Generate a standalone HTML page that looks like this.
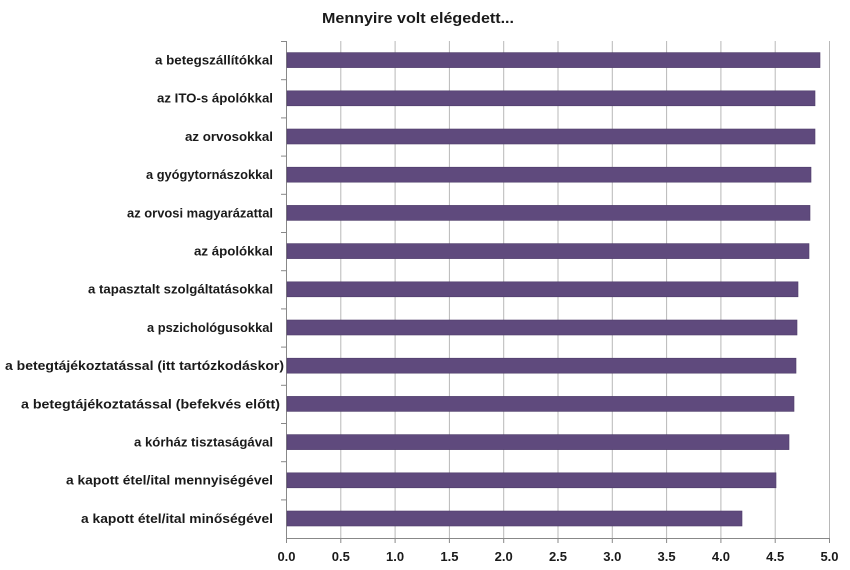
<!DOCTYPE html>
<html><head><meta charset="utf-8"><style>body{margin:0;background:#fff}svg{display:block}text{font-family:"Liberation Sans",sans-serif;font-weight:bold;fill:#1a1a1a}</style></head><body>
<svg width="850" height="570" xmlns="http://www.w3.org/2000/svg">
<text x="418" y="23" font-size="15" text-anchor="middle" textLength="192" lengthAdjust="spacingAndGlyphs">Mennyire volt elégedett...</text>
<g stroke="#b8b8b8" stroke-width="1">
<line x1="340.8" y1="41" x2="340.8" y2="538"/><line x1="395.1" y1="41" x2="395.1" y2="538"/><line x1="449.4" y1="41" x2="449.4" y2="538"/><line x1="503.7" y1="41" x2="503.7" y2="538"/><line x1="558" y1="41" x2="558" y2="538"/><line x1="612.3" y1="41" x2="612.3" y2="538"/><line x1="666.6" y1="41" x2="666.6" y2="538"/><line x1="720.9" y1="41" x2="720.9" y2="538"/><line x1="775.2" y1="41" x2="775.2" y2="538"/><line x1="829.5" y1="41" x2="829.5" y2="538"/>
</g>
<g stroke="#888" stroke-width="1">
<line x1="286.5" y1="41" x2="286.5" y2="538"/><line x1="286" y1="538.5" x2="830" y2="538.5"/>
</g>
<g stroke="#888">
<line x1="281" y1="41.5" x2="286" y2="41.5"/><line x1="281" y1="79.7" x2="286" y2="79.7"/><line x1="281" y1="117.9" x2="286" y2="117.9"/><line x1="281" y1="156.1" x2="286" y2="156.1"/><line x1="281" y1="194.3" x2="286" y2="194.3"/><line x1="281" y1="232.5" x2="286" y2="232.5"/><line x1="281" y1="270.7" x2="286" y2="270.7"/><line x1="281" y1="308.9" x2="286" y2="308.9"/><line x1="281" y1="347.1" x2="286" y2="347.1"/><line x1="281" y1="385.3" x2="286" y2="385.3"/><line x1="281" y1="423.5" x2="286" y2="423.5"/><line x1="281" y1="461.7" x2="286" y2="461.7"/><line x1="281" y1="499.9" x2="286" y2="499.9"/>
<line x1="286.5" y1="538" x2="286.5" y2="543"/><line x1="340.8" y1="538" x2="340.8" y2="543"/><line x1="395.1" y1="538" x2="395.1" y2="543"/><line x1="449.4" y1="538" x2="449.4" y2="543"/><line x1="503.7" y1="538" x2="503.7" y2="543"/><line x1="558" y1="538" x2="558" y2="543"/><line x1="612.3" y1="538" x2="612.3" y2="543"/><line x1="666.6" y1="538" x2="666.6" y2="543"/><line x1="720.9" y1="538" x2="720.9" y2="543"/><line x1="775.2" y1="538" x2="775.2" y2="543"/><line x1="829.5" y1="538" x2="829.5" y2="543"/>
</g>
<g fill="#5f4a7d" stroke="#4e3c69" stroke-width="0.6">
<rect x="287" y="52.6" width="533" height="15"/>
<rect x="287" y="90.8" width="528" height="15"/>
<rect x="287" y="129" width="528" height="15"/>
<rect x="287" y="167.2" width="524" height="15"/>
<rect x="287" y="205.4" width="523" height="15"/>
<rect x="287" y="243.6" width="522" height="15"/>
<rect x="287" y="281.8" width="511" height="15"/>
<rect x="287" y="320" width="510" height="15"/>
<rect x="287" y="358.2" width="509" height="15"/>
<rect x="287" y="396.4" width="507" height="15"/>
<rect x="287" y="434.6" width="502" height="15"/>
<rect x="287" y="472.8" width="489" height="15"/>
<rect x="287" y="511" width="455" height="15"/>
</g>
<g font-size="13" text-anchor="end" lengthAdjust="spacingAndGlyphs">
<text x="273" y="64.5" textLength="118" lengthAdjust="spacingAndGlyphs">a betegszállítókkal</text>
<text x="273" y="102.7" textLength="116" lengthAdjust="spacingAndGlyphs">az ITO-s ápolókkal</text>
<text x="273" y="140.9" textLength="88" lengthAdjust="spacingAndGlyphs">az orvosokkal</text>
<text x="273" y="179.1" textLength="127" lengthAdjust="spacingAndGlyphs">a gyógytornászokkal</text>
<text x="273" y="217.3" textLength="146" lengthAdjust="spacingAndGlyphs">az orvosi magyarázattal</text>
<text x="273" y="255.5" textLength="79" lengthAdjust="spacingAndGlyphs">az ápolókkal</text>
<text x="273" y="293.7" textLength="185" lengthAdjust="spacingAndGlyphs">a tapasztalt szolgáltatásokkal</text>
<text x="273" y="331.9" textLength="126" lengthAdjust="spacingAndGlyphs">a pszichológusokkal</text>
<text x="284" y="370.1" textLength="279" lengthAdjust="spacingAndGlyphs">a betegtájékoztatással (itt tartózkodáskor)</text>
<text x="280" y="408.3" textLength="259" lengthAdjust="spacingAndGlyphs">a betegtájékoztatással (befekvés előtt)</text>
<text x="273" y="446.5" textLength="139" lengthAdjust="spacingAndGlyphs">a kórház tisztaságával</text>
<text x="273" y="484.7" textLength="207" lengthAdjust="spacingAndGlyphs">a kapott étel/ital mennyiségével</text>
<text x="273" y="522.9" textLength="192" lengthAdjust="spacingAndGlyphs">a kapott étel/ital minőségével</text>
</g>
<g font-size="13" text-anchor="middle">
<text x="286.5" y="561">0.0</text><text x="340.8" y="561">0.5</text><text x="395.1" y="561">1.0</text><text x="449.4" y="561">1.5</text><text x="503.7" y="561">2.0</text><text x="558" y="561">2.5</text><text x="612.3" y="561">3.0</text><text x="666.6" y="561">3.5</text><text x="720.9" y="561">4.0</text><text x="775.2" y="561">4.5</text><text x="829.5" y="561">5.0</text>
</g>
</svg>
</body></html>
